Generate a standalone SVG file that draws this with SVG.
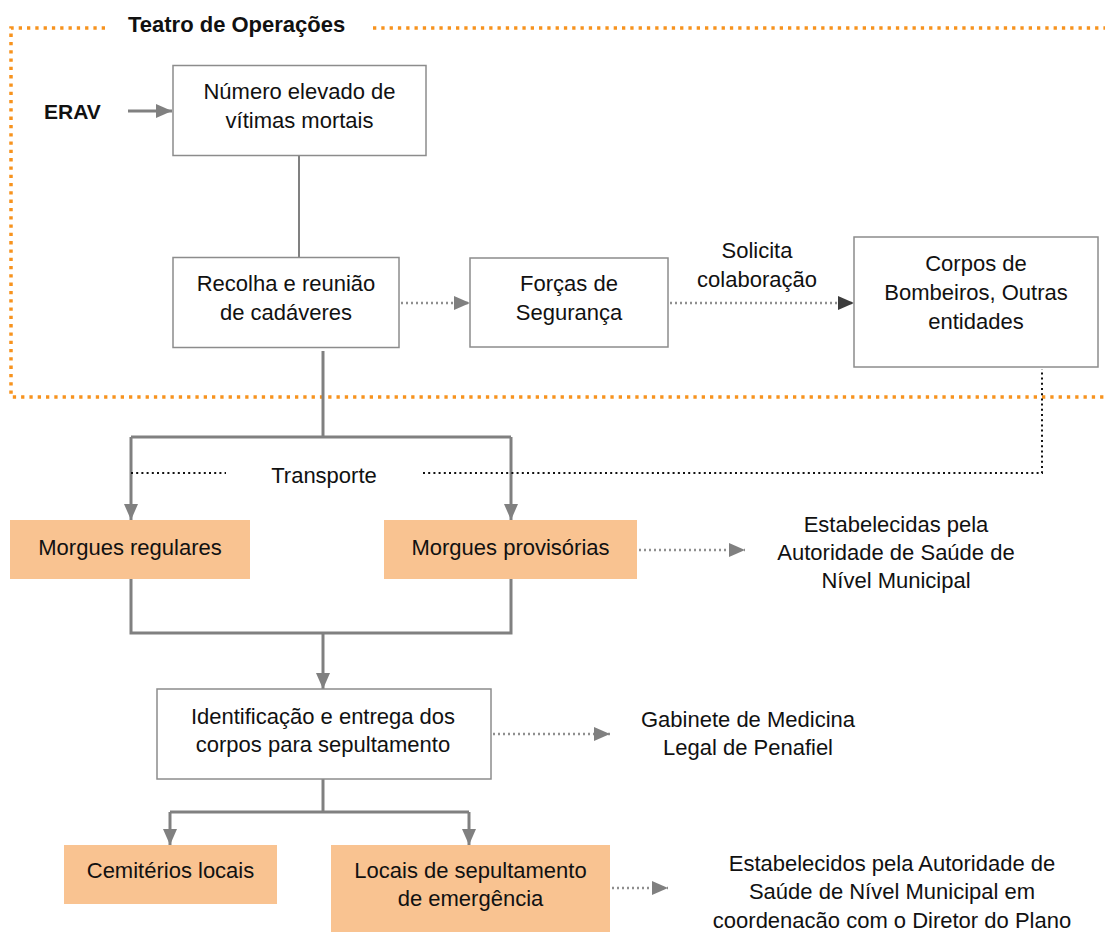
<svg xmlns="http://www.w3.org/2000/svg" width="1105" height="932" viewBox="0 0 1105 932">
  <style>
    text { font-family: "Liberation Sans", Arial, sans-serif; font-size: 22px; fill: #111; text-anchor: middle; }
    .bold { font-weight: bold; font-size: 21px; text-anchor: start; }
    .title { font-size: 22px; }
    .box { fill: #fff; stroke: #8c8c8c; stroke-width: 1.5; }
    .peach { fill: #f9c391; stroke: none; }
    .solid { fill: none; stroke: #808080; stroke-width: 3; }
    .thin { fill: none; stroke: #808080; stroke-width: 2; }
    .dotgray { fill: none; stroke: #8f8f8f; stroke-width: 2.5; stroke-dasharray: 2 3; }
    .dotblack { fill: none; stroke: #111; stroke-width: 2; stroke-dasharray: 2 3.2; }
    .frame { fill: none; stroke: #f7931e; stroke-width: 3.5; stroke-dasharray: 3.3 5; }
  </style>
  <defs>
    <marker id="headGray" markerUnits="userSpaceOnUse" markerWidth="16" markerHeight="16" refX="16" refY="8" orient="auto">
      <path d="M0,1 L16,8 L0,15 z" fill="#808080"/>
    </marker>
    <marker id="headDark" markerUnits="userSpaceOnUse" markerWidth="16" markerHeight="16" refX="16" refY="8" orient="auto">
      <path d="M0,1 L16,8 L0,15 z" fill="#3c3c3c"/>
    </marker>
  </defs>

  <!-- Teatro de Operações boundary -->
  <g id="teatro">
    <path class="frame" d="M105,28 L11,28 L11,397 L1105,397"/>
    <path class="frame" d="M373,28 L1105,28"/>
    <text class="bold title" x="128" y="32">Teatro de Operações</text>
  </g>

  <g id="connectors">
    <!-- ERAV -> Número elevado -->
    <path class="solid" d="M128,111 L172,111" marker-end="url(#headGray)"/>
    <!-- Número elevado -> Recolha -->
    <path class="thin" d="M299,155 L299,258"/>
    <!-- Recolha -> Forças -->
    <path class="dotgray" d="M401,303 L470,303" marker-end="url(#headGray)"/>
    <!-- Forças -> Corpos de Bombeiros -->
    <path class="dotgray" d="M670,303 L854,303" marker-end="url(#headDark)"/>
    <!-- Recolha -> Morgues (transporte) -->
    <path class="solid" d="M323,351 L323,437"/>
    <path class="solid" d="M131,437 L511,437"/>
    <path class="solid" d="M131,437 L131,520" marker-end="url(#headGray)"/>
    <path class="solid" d="M511,437 L511,520" marker-end="url(#headGray)"/>
    <!-- Transporte dotted link from Corpos de Bombeiros -->
    <path class="dotblack" d="M131,473 L226,473"/>
    <path class="dotblack" d="M423,473 L1042,473 L1042,369"/>
    <!-- Morgues -> Identificação -->
    <path class="solid" d="M131,579 L131,633 L511,633 L511,579"/>
    <path class="solid" d="M323,633 L323,689" marker-end="url(#headGray)"/>
    <!-- Morgues provisórias -> note -->
    <path class="dotgray" d="M639,550 L745,550" marker-end="url(#headGray)"/>
    <!-- Identificação -> Gabinete -->
    <path class="dotgray" d="M493,734 L610,734" marker-end="url(#headGray)"/>
    <!-- Identificação -> sepultamento -->
    <path class="solid" d="M323,779 L323,812"/>
    <path class="solid" d="M170,812 L469,812"/>
    <path class="solid" d="M170,812 L170,845" marker-end="url(#headGray)"/>
    <path class="solid" d="M469,812 L469,845" marker-end="url(#headGray)"/>
    <!-- Locais de sepultamento -> note -->
    <path class="dotgray" d="M612,888 L668,888" marker-end="url(#headGray)"/>
  </g>

  <g id="erav">
    <text class="bold" x="44" y="119">ERAV</text>
  </g>

  <g id="numero-elevado">
    <rect class="box" x="173" y="65.5" width="253" height="90"/>
    <text x="299.5" y="99">Número elevado de</text>
    <text x="299.5" y="128">vítimas mortais</text>
  </g>

  <g id="recolha">
    <rect class="box" x="173" y="257.5" width="226" height="90"/>
    <text x="286" y="291">Recolha e reunião</text>
    <text x="286" y="320">de cadáveres</text>
  </g>

  <g id="forcas">
    <rect class="box" x="470" y="258" width="198" height="89"/>
    <text x="569" y="291">Forças de</text>
    <text x="569" y="320">Segurança</text>
  </g>

  <g id="solicita">
    <text x="757" y="258">Solicita</text>
    <text x="757" y="287">colaboração</text>
  </g>

  <g id="bombeiros">
    <rect class="box" x="854" y="237" width="244" height="130"/>
    <text x="976" y="271">Corpos de</text>
    <text x="976" y="300">Bombeiros, Outras</text>
    <text x="976" y="329">entidades</text>
  </g>

  <g id="transporte">
    <text x="324" y="483">Transporte</text>
  </g>

  <g id="morgues-regulares">
    <rect class="peach" x="10" y="520" width="240" height="59"/>
    <text x="130" y="555">Morgues regulares</text>
  </g>

  <g id="morgues-provisorias">
    <rect class="peach" x="384" y="520" width="253" height="59"/>
    <text x="510.5" y="555">Morgues provisórias</text>
  </g>

  <g id="nota-morgues">
    <text x="896" y="532">Estabelecidas pela</text>
    <text x="896" y="560">Autoridade de Saúde de</text>
    <text x="896" y="588">Nível Municipal</text>
  </g>

  <g id="identificacao">
    <rect class="box" x="157" y="689" width="334" height="90"/>
    <text x="323" y="724">Identificação e entrega dos</text>
    <text x="323" y="752">corpos para sepultamento</text>
  </g>

  <g id="gabinete">
    <text x="748" y="727">Gabinete de Medicina</text>
    <text x="748" y="755">Legal de Penafiel</text>
  </g>

  <g id="cemiterios">
    <rect class="peach" x="64" y="845" width="213" height="59"/>
    <text x="170.5" y="878">Cemitérios locais</text>
  </g>

  <g id="locais-emergencia">
    <rect class="peach" x="331" y="845" width="279" height="87"/>
    <text x="470.5" y="878">Locais de sepultamento</text>
    <text x="470.5" y="906">de emergência</text>
  </g>

  <g id="nota-sepultamento">
    <text x="892" y="871">Estabelecidos pela Autoridade de</text>
    <text x="892" y="899">Saúde de Nível Municipal em</text>
    <text x="892" y="928">coordenacão com o Diretor do Plano</text>
  </g>
</svg>
